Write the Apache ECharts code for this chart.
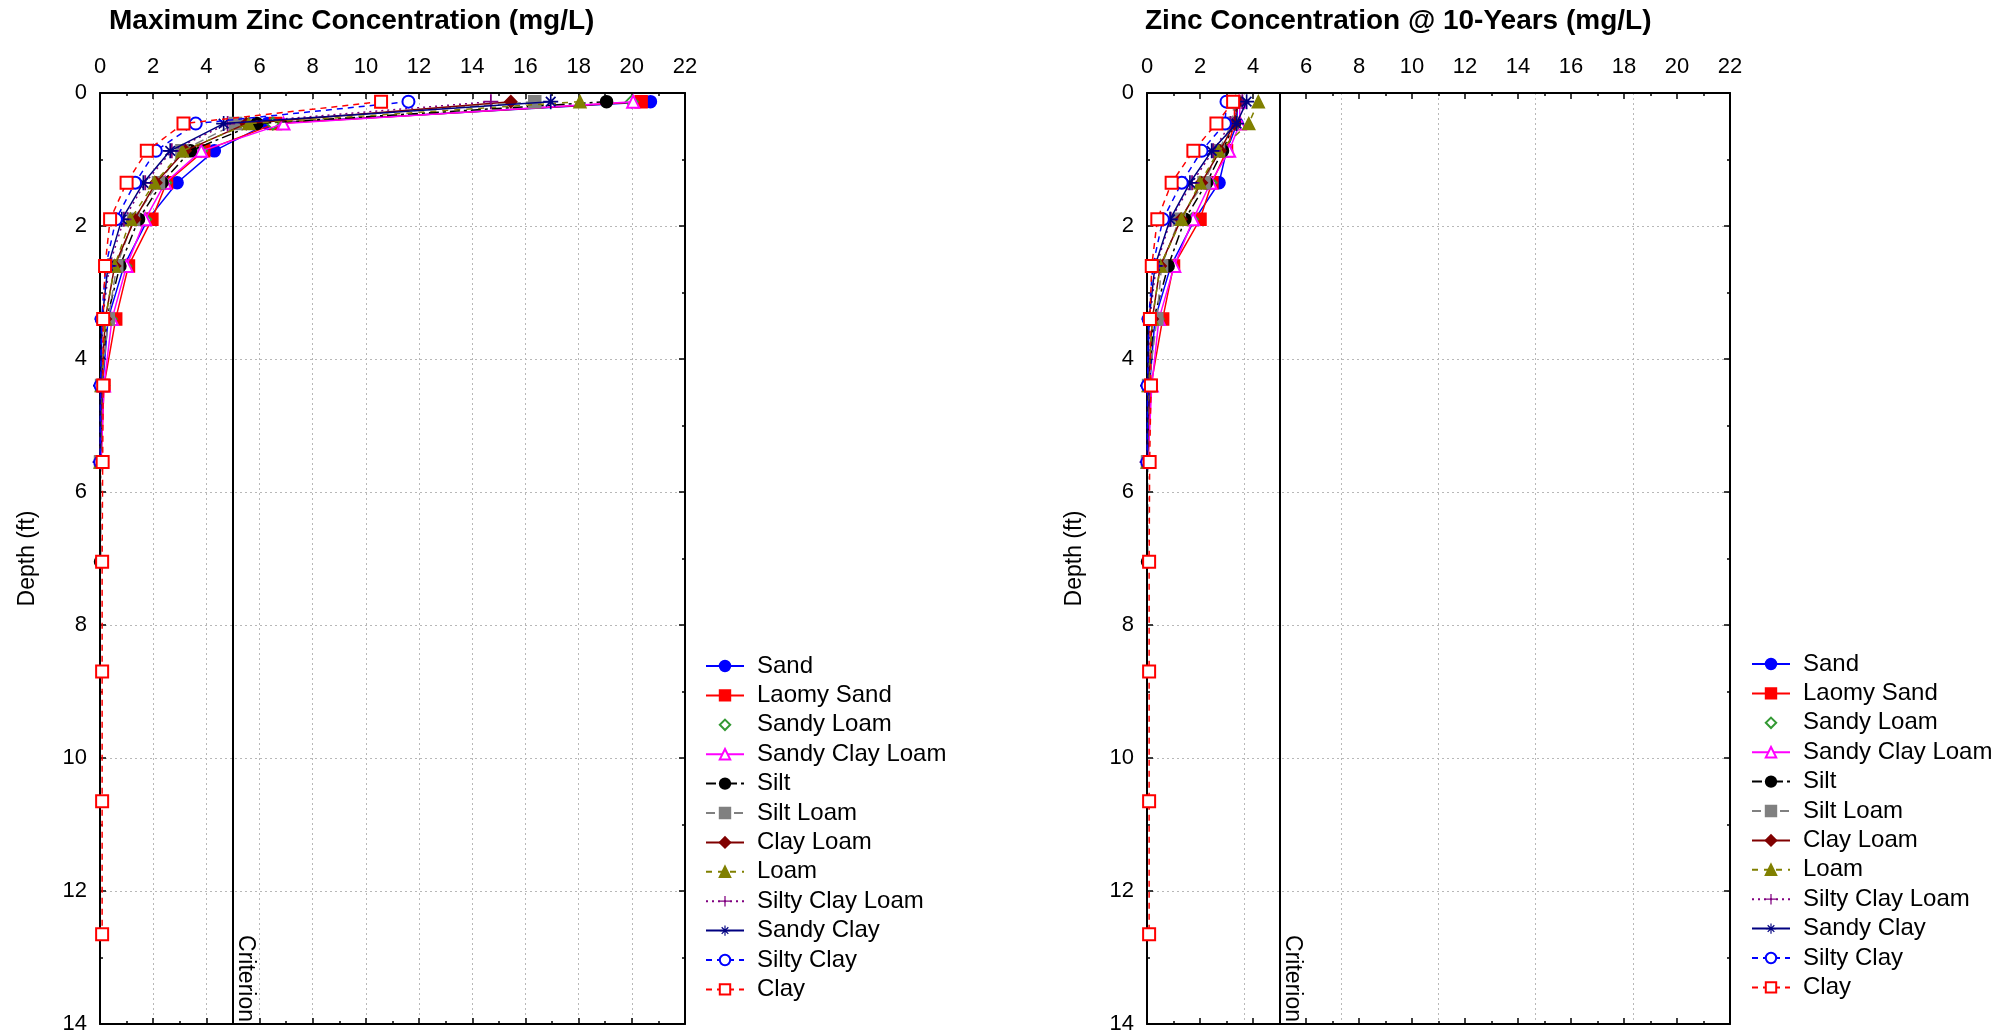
<!DOCTYPE html>
<html>
<head>
<meta charset="utf-8">
<script src="https://cdn.jsdelivr.net/npm/echarts@6/dist/echarts.min.js"></script>
<style>
  html, body { margin: 0; padding: 0; background: #fff; }
  #chart { width: 2011px; height: 1036px; }
</style>
</head>
<body>
<div id="chart"></div>
<script>
// depth of each model layer (ft)
const depths = [0.13, 0.46, 0.87, 1.35, 1.9, 2.6, 3.4, 4.4, 5.55, 7.05, 8.7, 10.65, 12.65];

const soils = ["Sand", "Laomy Sand", "Sandy Loam", "Sandy Clay Loam", "Silt", "Silt Loam",
  "Clay Loam", "Loam", "Silty Clay Loam", "Sandy Clay", "Silty Clay", "Clay"];

// maximum zinc concentration (mg/L), one value per layer
const maxSand = [20.7, 6.3, 4.3, 2.9, 1.8, 0.9, 0.3, 0.1, 0.03];
const maxLaomySand = [20.35, 6.6, 3.9, 2.5, 1.95, 1.07, 0.59, 0.15, 0.04];
const maxSandyLoam = [20.0, 6.5, 3.8, 2.45, 1.7, 0.95, 0.4, 0.12, 0.03];
const maxSandyClayLoam = [20.05, 6.9, 3.81, 2.45, 1.7, 1.0, 0.45, 0.15, 0.04];
const maxSilt = [19.05, 5.9, 3.4, 2.33, 1.45, 0.75, 0.25, 0.07, 0.02, 0.02];
const maxSiltLoam = [16.35, 5.1, 3.08, 2.2, 1.26, 0.63, 0.31, 0.06, 0.02];
const maxClayLoam = [15.45, 5.5, 3.2, 2.1, 1.3, 0.55, 0.2, 0.05, 0.01];
const maxLoam = [18.05, 5.6, 3.1, 2.05, 1.15, 0.55, 0.2, 0.05, 0.01];
const maxSiltyClayLoam = [14.7, 4.8, 2.7, 1.7, 0.9, 0.35, 0.1, 0.03, 0.01];
const maxSandyClay = [16.95, 4.65, 2.64, 1.63, 0.82, 0.3, 0.08, 0.02, 0.01];
const maxSiltyClay = [11.6, 3.6, 2.1, 1.32, 0.6, 0.22, 0.06, 0.02, 0.01];
const maxClay = [10.57, 3.14, 1.76, 1.0, 0.38, 0.19, 0.12, 0.12, 0.1, 0.08, 0.08, 0.08, 0.08];

// zinc concentration after 10 years (mg/L)
const yrSand = [3.4, 3.4, 3.0, 2.72, 1.8, 0.9, 0.3, 0.1, 0.03];
const yrLaomySand = [3.3, 3.3, 3.0, 2.45, 2.0, 1.0, 0.59, 0.15, 0.04];
const yrSandyLoam = [3.35, 3.35, 2.95, 2.4, 1.7, 0.9, 0.4, 0.12, 0.03];
const yrSandyClayLoam = [3.5, 3.5, 3.1, 2.4, 1.74, 1.03, 0.45, 0.18, 0.04];
const yrSilt = [3.4, 3.3, 2.85, 2.25, 1.43, 0.8, 0.25, 0.07, 0.02, 0.02];
const yrSiltLoam = [3.3, 3.2, 2.7, 2.15, 1.22, 0.55, 0.37, 0.06, 0.02];
const yrClayLoam = [3.45, 3.3, 2.75, 2.05, 1.28, 0.5, 0.2, 0.05, 0.01];
const yrLoam = [4.2, 3.84, 2.7, 2.0, 1.3, 0.5, 0.2, 0.05, 0.01];
const yrSiltyClayLoam = [3.6, 3.15, 2.5, 1.7, 0.9, 0.35, 0.1, 0.03, 0.01];
const yrSandyClay = [3.76, 3.38, 2.44, 1.62, 0.87, 0.3, 0.08, 0.02, 0.01];
const yrSiltyClay = [3.0, 2.94, 2.06, 1.31, 0.6, 0.22, 0.06, 0.02, 0.01];
const yrClay = [3.25, 2.62, 1.75, 0.93, 0.39, 0.18, 0.11, 0.15, 0.1, 0.08, 0.08, 0.08, 0.08];

const maxValues = [maxSand, maxLaomySand, maxSandyLoam, maxSandyClayLoam, maxSilt, maxSiltLoam,
  maxClayLoam, maxLoam, maxSiltyClayLoam, maxSandyClay, maxSiltyClay, maxClay];
const yrValues = [yrSand, yrLaomySand, yrSandyLoam, yrSandyClayLoam, yrSilt, yrSiltLoam,
  yrClayLoam, yrLoam, yrSiltyClayLoam, yrSandyClay, yrSiltyClay, yrClay];

const xTicks = [0, 22, 2];
const depthTicks = [0, 14, 2];
const criterion = 5;

const PLUS = "path://M0,4.4H10V5.6H0Z M4.4,0H5.6V10H4.4Z";
const STAR = "path://M0,4.45H10V5.55H0Z M4.45,0H5.55V10H4.45Z M1.4,2.2L2.2,1.4L8.6,7.8L7.8,8.6Z M7.8,1.4L8.6,2.2L2.2,8.6L1.4,7.8Z";

// look of each soil: colour, marker, dash
const looks = [
  { color: "#0000ff", symbol: "circle", dash: "solid" },
  { color: "#ff0000", symbol: "rect", dash: "solid" },
  { color: "#339933", symbol: "emptyDiamond", dash: "solid", noLine: true },
  { color: "#ff00ff", symbol: "emptyTriangle", dash: "solid" },
  { color: "#000000", symbol: "circle", dash: [10, 4, 3, 4] },
  { color: "#808080", symbol: "rect", dash: [9, 5] },
  { color: "#800000", symbol: "diamond", dash: "solid" },
  { color: "#808000", symbol: "triangle", dash: [6, 6] },
  { color: "#800080", symbol: PLUS, dash: [2, 4] },
  { color: "#000080", symbol: STAR, dash: "solid" },
  { color: "#0000ff", symbol: "emptyCircle", dash: [6, 5] },
  { color: "#ff0000", symbol: "emptyRect", dash: [6, 5] },
];

const FONT = "Liberation Sans";
const grids = [
  { left: 100, top: 93, width: 585, height: 931 },
  { left: 1147, top: 93, width: 583, height: 931 },
];

function soilSeries(values, gi) {
  return soils.map((name, i) => {
    const lk = looks[i];
    const isPath = lk.symbol.startsWith("path");
    return {
      name, type: "line",
      xAxisIndex: gi * 3, yAxisIndex: gi * 2,
      data: values[i].map((v, k) => [v, depths[k]]),
      symbol: lk.symbol,
      symbolSize: isPath ? 15 : 12,
      symbolKeepAspect: true,
      itemStyle: { color: lk.color, borderColor: lk.color, borderWidth: isPath ? 0 : 1.5 },
      lineStyle: { color: lk.color, width: 1.5, type: lk.dash, opacity: lk.noLine ? 0 : 1 },
      animation: false,
      z: 3 + i,
    };
  });
}

function criterionSeries(gi) {
  return {
    name: "Criterion", type: "line",
    xAxisIndex: gi * 3, yAxisIndex: gi * 2,
    data: [],
    animation: false,
    markLine: {
      silent: true, symbol: "none", animation: false,
      lineStyle: { color: "#000", width: 2, type: "solid" },
      label: {
        show: true, formatter: "Criterion", position: "insideEndTop",
        color: "#000", fontSize: 23, fontFamily: FONT, distance: [2, 1],
      },
      data: [[{ coord: [criterion, depthTicks[0]] }, { coord: [criterion, depthTicks[1]] }]],
    },
    z: 2,
  };
}

const gridLine = { show: true, lineStyle: { color: "#b8b8b8", type: [2, 3], width: 1 } };
const axisLine = { show: true, onZero: false, lineStyle: { color: "#000", width: 2 } };
const tick = { show: true, inside: true, length: 6, lineStyle: { color: "#000", width: 1.5 } };
const minor = { show: true, splitNumber: 2, length: 3, lineStyle: { color: "#000", width: 1.5 } };

function xAxes(gi, splitEvery) {
  const base = { type: "value", gridIndex: gi, min: xTicks[0], max: xTicks[1], interval: xTicks[2] };
  return [
    {
      ...base, position: "top", axisLine, axisTick: tick, minorTick: minor,
      axisLabel: { show: true, margin: 15, fontSize: 22, color: "#000", fontFamily: FONT,
        showMinLabel: true, showMaxLabel: true },
      splitLine: splitEvery ? { show: false } : gridLine,
    },
    {
      ...base, position: "bottom", axisLine, axisTick: tick, minorTick: minor,
      axisLabel: { show: false }, splitLine: { show: false },
    },
    // grid lines of the second panel do not follow its ticks
    splitEvery
      ? { type: "value", gridIndex: gi, position: "bottom", min: 0, max: splitEvery, interval: 1,
          axisLine: { show: false }, axisTick: { show: false }, axisLabel: { show: false },
          splitLine: gridLine }
      : { ...base, position: "bottom", show: false },
  ];
}

function yAxes(gi) {
  const base = { type: "value", gridIndex: gi, inverse: true, min: depthTicks[0], max: depthTicks[1], interval: depthTicks[2] };
  return [
    {
      ...base, position: "left", axisLine, axisTick: tick, minorTick: minor,
      name: "Depth (ft)", nameLocation: "middle", nameGap: 61, nameRotate: 90,
      nameTextStyle: { fontSize: 23, color: "#000", fontFamily: FONT },
      axisLabel: { show: true, margin: 13, fontSize: 22, color: "#000", fontFamily: FONT,
        showMinLabel: true, showMaxLabel: true },
      splitLine: gridLine,
    },
    {
      ...base, position: "right", axisLine, axisTick: tick, minorTick: minor,
      axisLabel: { show: false }, splitLine: { show: false },
    },
  ];
}

function legend(left, top) {
  return {
    orient: "vertical", left, top, padding: 0,
    data: soils, selectedMode: false,
    itemWidth: 38, itemHeight: 13, itemGap: 5.4,
    textStyle: { fontSize: 24, lineHeight: 24, color: "#000", fontFamily: FONT, padding: [0, 0, 0, 8] },
  };
}

const chart = echarts.init(document.getElementById("chart"));
chart.setOption({
  backgroundColor: "#fff",
  animation: false,
  title: [
    { text: "Maximum Zinc Concentration (mg/L)", left: 109, top: 7, padding: 0,
      textStyle: { fontSize: 28, fontWeight: "bold", color: "#000", fontFamily: FONT } },
    { text: "Zinc Concentration @ 10-Years (mg/L)", left: 1145, top: 7, padding: 0,
      textStyle: { fontSize: 28, fontWeight: "bold", color: "#000", fontFamily: FONT } },
  ],
  legend: [legend(705, 654), legend(1751, 652)],
  grid: grids,
  xAxis: [...xAxes(0, 0), ...xAxes(1, 6)],
  yAxis: [...yAxes(0), ...yAxes(1)],
  series: [
    criterionSeries(0), ...soilSeries(maxValues, 0),
    criterionSeries(1), ...soilSeries(yrValues, 1),
  ],
});
</script>
</body>
</html>
